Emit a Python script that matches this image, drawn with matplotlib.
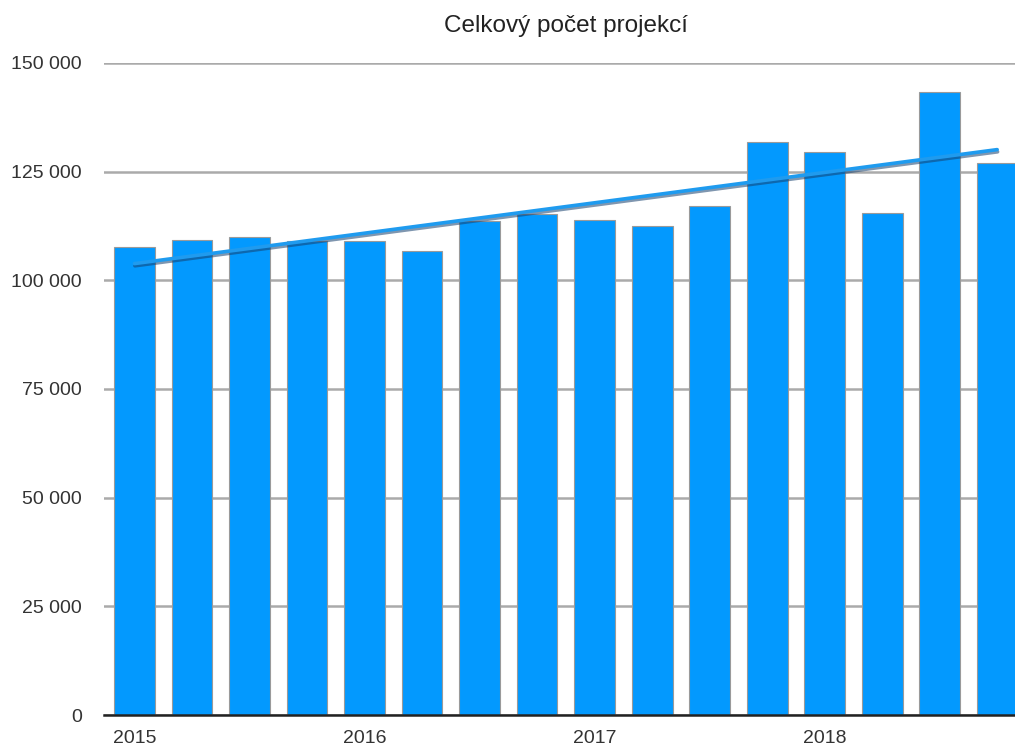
import numpy as np
import matplotlib
matplotlib.use("Agg")
import matplotlib.pyplot as plt
from matplotlib import patheffects as pe
from matplotlib.ticker import FuncFormatter

# quarterly totals 2015 Q1 .. 2018 Q4
quarters = ["2015", "", "", "", "2016", "", "", "", "2017", "", "", "", "2018", "", "", ""]
projekce = [107700, 109200, 110000, 109000, 109000, 106700, 113600, 115300,
            113800, 112500, 117100, 131900, 129600, 115600, 143300, 127100]

plt.rcParams['font.family'] = ['Liberation Sans', 'DejaVu Sans']

fig = plt.figure(figsize=(10.15, 7.47), dpi=100)
ax = fig.add_axes([104 / 1015, 1 - 715 / 747, 1 - 104 / 1015, (715 - 63) / 747])

x = np.arange(len(projekce))
ax.bar(x, projekce, width=0.71, color="#0399FE", edgecolor="#9a9a9a", linewidth=0.8, zorder=2)

# linear trend
k, q = np.polyfit(x, projekce, 1)
ax.plot([x[0], x[-1]], [q + k * x[0], q + k * x[-1]], color="#1f9bef", linewidth=2.6,
        solid_capstyle="round", zorder=3,
        path_effects=[pe.SimpleLineShadow(offset=(0.3, -1.6), shadow_color="#16406e", alpha=0.55),
                      pe.Normal()])

ax.set_xlim(-0.53, 15.31)
ax.set_ylim(0, 150000)
ax.set_yticks(np.arange(0, 150001, 25000))
ax.yaxis.set_major_formatter(FuncFormatter(lambda v, p: f"{int(v):,}".replace(",", " ")))
ax.set_xticks(x)
ax.set_xticklabels(quarters)

ax.grid(axis="y", color="#aaaaaa", linewidth=1.8, zorder=0)
ax.set_axisbelow(True)
for s in ["top", "right", "left"]:
    ax.spines[s].set_visible(False)
ax.spines["bottom"].set_color("#222222")
ax.spines["bottom"].set_linewidth(1.8)
ax.spines["bottom"].set_zorder(4)
ax.tick_params(axis="y", length=0, pad=16, labelsize=14, labelcolor="#333333")
ax.tick_params(axis="x", length=0, pad=11, labelsize=14, labelcolor="#333333")

fig.suptitle("Celkový počet projekcí", x=566 / 1015, y=1 - 15 / 747, fontsize=17.5, color="#222222", va="top")

fig.savefig("out.png", dpi=100)
